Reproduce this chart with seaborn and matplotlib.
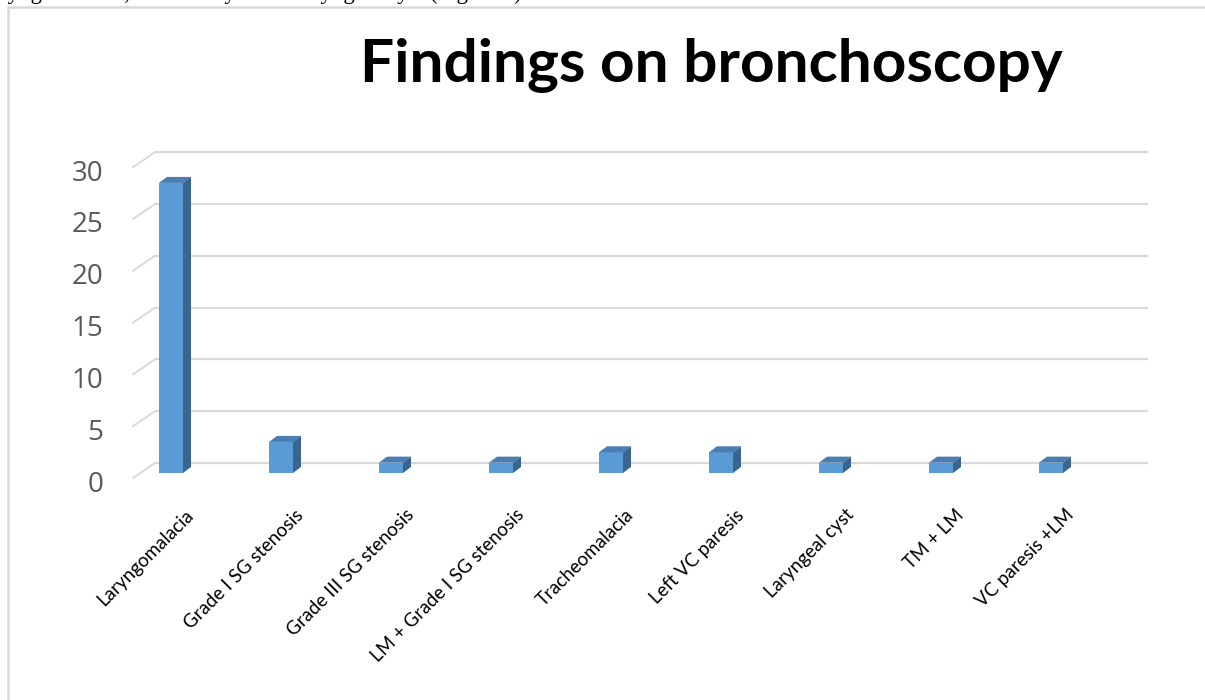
import matplotlib
matplotlib.use("Agg")
import matplotlib.pyplot as plt
from matplotlib.patches import Polygon
from matplotlib.lines import Line2D
from matplotlib.transforms import ScaledTranslation
import seaborn as sns
import pandas as pd

# Bronchoscopy findings (number of patients)
findings = [
    "Laryngomalacia",
    "Grade I SG stenosis",
    "Grade III SG stenosis",
    "LM + Grade I SG stenosis",
    "Tracheomalacia",
    "Left VC paresis",
    "Laryngeal cyst",
    "TM + LM",
    "VC paresis +LM",
]
counts = [28, 3, 1, 1, 2, 2, 1, 1, 1]
y_ticks = [0, 5, 10, 15, 20, 25, 30]

title_text = "Findings on bronchoscopy"
caption_text = "ryngomalacia, and 1 baby had a laryngeal cyst (Figure 3)."

df = pd.DataFrame({"finding": findings, "count": counts})

sns.set_theme(style="white")
plt.rcParams["font.family"] = ["Lato", "DejaVu Sans"]

W, H = 1205, 700
fig = plt.figure(figsize=(W / 100, H / 100), dpi=100)
fig.patch.set_facecolor("white")

# axes box in pixels
ax_l, ax_r, ax_t, ax_b = 100, 1160, 130, 490
ax = fig.add_axes([ax_l / W, 1 - ax_b / H, (ax_r - ax_l) / W, (ax_b - ax_t) / H])

px_per_cat = 110.0
px_per_unit = 10.36
x0_px = 171.0   # first category centre
y0_px = 473.0   # value zero on the bar front plane

front = "#5B9BD5"
top_c = "#4A7DB1"
side_c = "#3A6590"
grid_c = "#D9D9D9"

bar_w = 24 / px_per_cat
sns.barplot(data=df, x="finding", y="count", color=front, saturation=1,
            width=bar_w, ax=ax, zorder=3, linewidth=0)

ax.set_xlim((ax_l - x0_px) / px_per_cat, (ax_r - x0_px) / px_per_cat)
ax.set_ylim((y0_px - ax_b) / px_per_unit, (y0_px - ax_t) / px_per_unit)

# 3-D look: top and side faces of each column
ddx, ddy = 8 / px_per_cat, 6 / px_per_unit
for p in ax.patches:
    bx, bw, bh = p.get_x(), p.get_width(), p.get_height()
    top = Polygon([(bx, bh), (bx + bw, bh), (bx + bw + ddx, bh + ddy), (bx + ddx, bh + ddy)],
                  closed=True, facecolor=top_c, edgecolor="none", zorder=3)
    side = Polygon([(bx + bw, 0), (bx + bw + ddx, ddy), (bx + bw + ddx, bh + ddy), (bx + bw, bh)],
                   closed=True, facecolor=side_c, edgecolor="none", zorder=3)
    ax.add_patch(top)
    ax.add_patch(side)

# back wall gridlines with the short diagonal on the left side wall
wall_dx = 22 / px_per_cat
back_dy = 10 / px_per_unit
front_dy = -5 / px_per_unit
xl_front = (133 - x0_px) / px_per_cat
xl_back = xl_front + wall_dx
xr_back = (1148 - x0_px) / px_per_cat
for v in y_ticks:
    ax.plot([xl_back, xr_back], [v + back_dy, v + back_dy], color=grid_c, lw=1.6,
            zorder=1, solid_capstyle="butt")
    ax.plot([xl_front, xl_back], [v + front_dy, v + back_dy], color=grid_c, lw=1.4,
            zorder=1)

for s in ax.spines.values():
    s.set_visible(False)
ax.set_xlabel("")
ax.set_ylabel("")
ax.grid(False)

# y tick labels
ax.set_yticks(y_ticks)
ax.set_yticklabels([str(v) for v in y_ticks])
ax.tick_params(axis="y", length=0, pad=-2.5, labelsize=20, labelcolor="#595959")
for lab in ax.get_yticklabels():
    lab.set_fontfamily(["Open Sans", "DejaVu Sans"])
    lab.set_transform(lab.get_transform() + ScaledTranslation(0, -0.08, fig.dpi_scale_trans))

# rotated category labels
ax.tick_params(axis="x", length=0, pad=16, labelsize=13.5, labelcolor="black")
for lab in ax.get_xticklabels():
    lab.set_rotation(45)
    lab.set_ha("right")
    lab.set_va("center")
    lab.set_rotation_mode("anchor")
    lab.set_transform(lab.get_transform() + ScaledTranslation(0.20, 0, fig.dpi_scale_trans))

fig.text(711 / W, 1 - 82 / H, title_text, ha="center", va="baseline",
         fontsize=43.5, fontweight="bold", color="black")

fig.text(0 / W, 1 + 1 / H, caption_text, ha="left", va="baseline",
         fontsize=16.5, color="black", family=["Liberation Serif", "DejaVu Serif"])

# chart frame (top and left edges)
fig.add_artist(Line2D([8 / W, 1], [1 - 7 / H, 1 - 7 / H], transform=fig.transFigure,
                      color="#D9D9D9", lw=1.8))
fig.add_artist(Line2D([8 / W, 8 / W], [1 - 7 / H, 0], transform=fig.transFigure,
                      color="#D9D9D9", lw=1.8))

fig.savefig("out.png", dpi=100, facecolor="white")
